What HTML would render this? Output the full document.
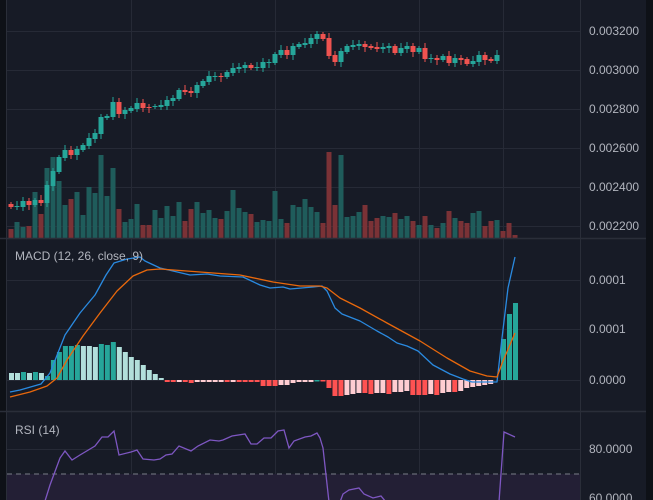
<!DOCTYPE html>
<html><head><meta charset="utf-8"><style>
html,body{margin:0;padding:0;background:#171b26;}
svg{display:block;font-family:"Liberation Sans",sans-serif;}
</style></head><body>
<svg id="c" width="653" height="500" xmlns="http://www.w3.org/2000/svg">
<rect width="653" height="500" fill="#171b26"/>
<rect x="0" y="0" width="6" height="500" fill="#0e1117"/>
<rect x="646" y="0" width="7" height="500" fill="#0e1117"/>
<g id="grid" stroke="#262a36" stroke-width="1"></g>
<rect x="7" y="474" width="573" height="26" fill="#231f35"/>
<line x1="7" y1="474" x2="580" y2="474" stroke="#7a7d88" stroke-dasharray="5,4" stroke-width="1"/>
<g id="vol"></g><g id="cdl"></g><g id="hist"></g><g id="lines"></g>
<line x1="6.5" y1="0" x2="6.5" y2="500" stroke="#2a2e39"/>
<line x1="580.5" y1="0" x2="580.5" y2="500" stroke="#2a2e39"/>
<line x1="0" y1="238.5" x2="646" y2="238.5" stroke="#2a2e39" stroke-width="1.5"/>
<line x1="0" y1="411.5" x2="646" y2="411.5" stroke="#2a2e39" stroke-width="1.5"/>
<g fill="#b2b5be" font-size="12">
<text x="589" y="35">0.003200</text>
<text x="589" y="74">0.003000</text>
<text x="589" y="113">0.002800</text>
<text x="589" y="152">0.002600</text>
<text x="589" y="191">0.002400</text>
<text x="589" y="230">0.002200</text>
<text x="589" y="284">0.0001</text>
<text x="589" y="333">0.0001</text>
<text x="589" y="384">0.0000</text>
<text x="589" y="453">80.0000</text>
<text x="589" y="502">60.0000</text>
<text x="15" y="260">MACD (12, 26, close, 9)</text>
<text x="15" y="434">RSI (14)</text>
</g>
</svg>
<script>
const NS="http://www.w3.org/2000/svg";
function el(p,t,a){const e=document.createElementNS(NS,t);for(const k in a)e.setAttribute(k,a[k]);document.getElementById(p).appendChild(e);return e;}
[31,70,109,148,187,226,280,329,380,449,498].forEach(y=>el("grid","line",{x1:7,x2:580,y1:y+.5,y2:y+.5}));
[131,275,419,503].forEach(x=>el("grid","line",{x1:x+.5,x2:x+.5,y1:0,y2:500}));
const C=[[204,207,0],[206,207,1],[201,207,1],[201,205,0],[200,205,1],[200,203,0],[185,203,1],[171,186,1],[157,172,1],[150,158,1],[150,155,0],[149,155,1],[145,150,1],[138,146,1],[133,139,1],[117,134,1],[116,118,1],[102,117,1],[102,114,0],[110,114,1],[108,111,1],[103,109,1],[103,108,0],[107,108,0],[106,107,1],[105,107,1],[100,106,1],[98,101,1],[90,99,1],[90,92,0],[91,93,0],[85,93,1],[81,86,1],[76,82,1],[76,77,1],[76,77,0],[72,77,1],[68,73,1],[67,69,1],[65,68,1],[65,68,0],[67,68,1],[62,68,1],[62,63,1],[54,63,1],[50,55,1],[50,55,0],[46,55,1],[44,47,1],[43,45,1],[38,44,1],[34,39,1],[34,39,0],[38,56,0],[55,62,0],[51,62,1],[46,52,1],[45,47,1],[44,46,1],[44,47,0],[46,48,0],[47,49,0],[47,49,1],[46,48,1],[46,53,0],[48,53,1],[46,49,1],[46,52,0],[48,52,1],[48,59,0],[58,59,1],[58,60,0],[56,60,1],[56,63,0],[58,63,1],[58,60,0],[59,64,0],[61,64,1],[55,62,1],[55,60,0],[59,61,0],[55,61,1]];
C.forEach((c,i)=>{const x=11+6*i,col=c[2]?"#26a69a":"#ef5350";
 const w1=2+((i*7)%4),w2=2+((i*5)%4);
 el("cdl","line",{x1:x,x2:x,y1:c[0]-w1,y2:c[1]+w2,stroke:col,"stroke-width":1});
 el("cdl","rect",{x:x-2.5,y:c[0],width:5,height:Math.max(1,c[1]-c[0]),fill:col});});
const V=[[229,0],[222,1],[227,1],[226,0],[192,1],[214,0],[168,1],[157,1],[181,1],[205,1],[199,0],[192,1],[215,1],[187,1],[193,1],[155,1],[196,1],[168,1],[209,0],[222,1],[219,1],[204,1],[225,0],[225,0],[210,1],[218,1],[206,1],[216,1],[202,1],[221,0],[209,0],[202,1],[213,1],[210,1],[218,1],[219,0],[211,1],[190,1],[208,1],[212,1],[214,0],[222,1],[220,1],[221,1],[191,1],[219,1],[223,0],[205,1],[207,1],[199,1],[207,1],[212,1],[223,0],[152,0],[205,0],[155,1],[217,1],[216,1],[212,1],[205,0],[221,0],[218,0],[216,1],[217,1],[213,0],[219,1],[216,1],[221,0],[225,1],[216,0],[225,1],[228,0],[223,1],[211,0],[218,1],[221,0],[223,0],[213,1],[211,1],[226,0],[221,0],[220,1],[231,0],[223,0],[235,0]];
V.forEach((v,i)=>{const x=11+6*i;el("vol","rect",{x:x-2.5,y:v[0],width:5,height:238-v[0],fill:v[1]?"#1f5c5b":"#7a3236"});});
const H=[[373,1],[373,1],[372,0],[373,1],[372,0],[373,1],[376,0],[360,0],[352,0],[346,0],[346,0],[345,0],[346,1],[346,1],[347,1],[344,0],[345,0],[342,0],[347,1],[352,1],[357,1],[360,1],[365,1],[370,1],[374,1],[378,1],
[382,2],[382,2],[382,3],[382,2],[383,2],[382,3],[382,3],[382,3],[382,3],[382,3],[382,2],[382,3],[382,2],[382,2],[382,2],[382,2],[386,2],[386,2],[386,2],[385,3],[385,3],[383,3],[382,3],[382,3],[382,3],[381,0],[381,2],[388,2],[396,2],[396,2],[395,3],[394,3],[393,3],[393,2],[394,2],[393,3],[393,3],[394,2],[392,3],[392,3],[391,3],[395,2],[395,2],[395,2],[394,3],[395,2],[393,3],[392,3],[392,2],[391,3],[388,3],[387,3],[386,3],[385,3],[384,3],[339,0],[314,0],[303,0]];
const HC=["#26a69a","#b2dfdb","#ff5252","#ffcdd2"];
const N=H.length;
H.forEach((h,i)=>{let x=11.5+5.99*i; if(i>=N-3) x=515.5-6*(N-1-i);
 let y=h[0],hh;if(y<380){hh=380-y;}else{hh=y-380;y=380;}
 el("hist","rect",{x:x-2.5,y:y,width:5,height:Math.max(1.5,hh),fill:HC[h[1]]});});
function pl(pts,col){el("lines","polyline",{points:pts.map(p=>p.join(",")).join(" "),fill:"none",stroke:col,"stroke-width":1.3,"stroke-linejoin":"round"});}
pl([[10,392],[20,390],[41,384],[50,373],[65,335],[80,313],[95,295],[106,275],[114,263],[127,259],[140,257],[145,261],[160,268],[173,271],[190,275],[207,274],[220,276],[243,277],[260,285],[270,288],[283,287],[290,289],[313,287],[322,286],[327,291],[335,308],[342,314],[360,321],[377,331],[388,337],[397,343],[407,346],[418,351],[433,365],[450,374],[463,379],[472,382],[487,382],[497,382],[502,338],[508,288],[515,257]],"#2a8ae0");
pl([[10,397],[30,392],[47,386],[57,378],[67,360],[83,336],[100,313],[117,291],[133,276],[147,270],[160,269],[200,272],[240,275],[273,282],[300,286],[320,286],[327,288],[340,298],[360,308],[387,323],[420,341],[447,358],[470,371],[487,376],[497,377],[503,361],[515,333]],"#e8680c");
const R=[[45,501],[50,485],[60,458],[65,451],[72,460],[80,455],[95,446],[102,437],[108,437],[114,431],[119,455],[131,452],[137,450],[143,459],[154,460],[160,459],[166,455],[172,454],[179,446],[191,451],[198,446],[210,440],[219,441],[223,440],[232,436],[245,434],[251,444],[257,444],[264,438],[271,438],[278,431],[284,430],[289,448],[294,441],[305,437],[311,436],[317,433],[320,438],[323,448],[329,502]];
el("lines","polyline",{points:R.map(p=>p.join(",")).join(" "),fill:"none",stroke:"#7e57c2","stroke-width":1.3});
el("lines","polyline",{points:"340,502 343,494 349,490 359,488 364,494 373,498 381,496 386,502",fill:"none",stroke:"#7e57c2","stroke-width":1.3});
el("lines","polyline",{points:"499,502 504,432 515,437",fill:"none",stroke:"#7e57c2","stroke-width":1.3});
</script>
</body></html>
